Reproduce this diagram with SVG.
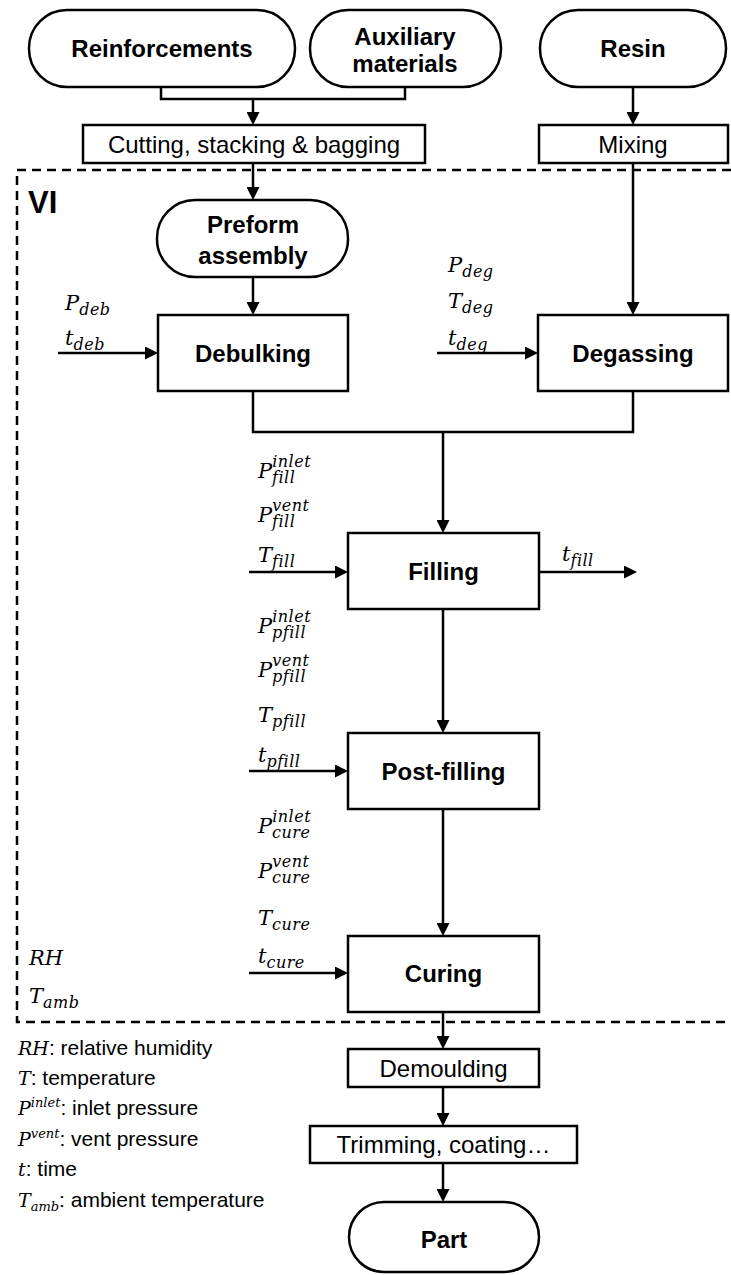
<svg xmlns="http://www.w3.org/2000/svg" width="731" height="1275" viewBox="0 0 731 1275">
  <style>
    .box { fill: #fff; stroke: #000; stroke-width: 2.5; }
    .line { fill: none; stroke: #000; stroke-width: 2.5; }
    .arrow { fill: none; stroke: #000; stroke-width: 2.5; marker-end: url(#ah); }
    .frame { fill: none; stroke: #000; stroke-width: 2.5; stroke-dasharray: 9 6; }
    .b { font-family: "Liberation Sans", Arial, sans-serif; font-weight: bold; font-size: 24px; text-anchor: middle; fill: #000; }
    .r { font-family: "Liberation Sans", Arial, sans-serif; font-size: 24px; text-anchor: middle; fill: #000; }
    .vi { font-family: "Liberation Sans", Arial, sans-serif; font-weight: bold; font-size: 31px; fill: #000; }
    .m { font-family: "DejaVu Serif", "Liberation Serif", serif; font-style: italic; font-size: 21px; fill: #000; }
    .s { font-size: 16px; letter-spacing: 0.5px; }
    .leg { font-family: "Liberation Sans", Arial, sans-serif; font-size: 21px; fill: #000; }
    .lm { font-family: "DejaVu Serif", "Liberation Serif", serif; font-style: italic; font-size: 19px; }
    .ls { font-family: "DejaVu Serif", "Liberation Serif", serif; font-style: italic; font-size: 13px; }
  </style>
  <defs>
    <marker id="ah" viewBox="0 0 13 13" refX="9" refY="6.5" markerWidth="13" markerHeight="13" markerUnits="userSpaceOnUse" orient="auto">
      <path d="M0,0 L13,6.5 L0,13 z" fill="#000"/>
    </marker>
  </defs>

  <!-- VI process boundary -->
  <g id="vi-frame">
    <path class="frame" d="M731,170 H17 V1022 H731"/>
    <text class="vi" x="28" y="213">VI</text>
  </g>

  <!-- connectors -->
  <g id="connectors">
    <path class="line" d="M161,87 V99 H405 V87"/>
    <path class="arrow" d="M253,99 V121"/>
    <path class="arrow" d="M633,87 V121"/>
    <path class="arrow" d="M253,163 V196"/>
    <path class="arrow" d="M253,277 V311"/>
    <path class="arrow" d="M633,163 V311"/>
    <path class="line" d="M253,391 V432 H633 V391"/>
    <path class="arrow" d="M443,432 V529"/>
    <path class="arrow" d="M443,609 V729"/>
    <path class="arrow" d="M443,809 V932"/>
    <path class="arrow" d="M443,1012 V1045"/>
    <path class="arrow" d="M443,1087 V1122"/>
    <path class="arrow" d="M443,1163 V1198"/>
    <!-- parameter inputs / output -->
    <path class="arrow" d="M58,353 H154"/>
    <path class="arrow" d="M437,353 H534"/>
    <path class="arrow" d="M249,572 H344"/>
    <path class="arrow" d="M539,572 H633"/>
    <path class="arrow" d="M249,771 H344"/>
    <path class="arrow" d="M249,973 H344"/>
  </g>

  <!-- nodes -->
  <g id="reinforcements">
    <rect class="box" x="29" y="10" width="266" height="77" rx="38" ry="38"/>
    <text class="b" x="162" y="57">Reinforcements</text>
  </g>
  <g id="auxiliary">
    <rect class="box" x="310" y="10" width="191" height="77" rx="38" ry="38"/>
    <text class="b" x="405" y="45">Auxiliary</text>
    <text class="b" x="405" y="72">materials</text>
  </g>
  <g id="resin">
    <rect class="box" x="540" y="10" width="186" height="77" rx="38" ry="38"/>
    <text class="b" x="633" y="57">Resin</text>
  </g>
  <g id="cutting">
    <rect class="box" x="83" y="125" width="342" height="38"/>
    <text class="r" x="254" y="153">Cutting, stacking &amp; bagging</text>
  </g>
  <g id="mixing">
    <rect class="box" x="539" y="125" width="189" height="38"/>
    <text class="r" x="633" y="153">Mixing</text>
  </g>
  <g id="preform">
    <rect class="box" x="157" y="200" width="191" height="77" rx="38" ry="38"/>
    <text class="b" x="253" y="233">Preform</text>
    <text class="b" x="253" y="264">assembly</text>
  </g>
  <g id="debulking">
    <rect class="box" x="158" y="315" width="190" height="76"/>
    <text class="b" x="253" y="362">Debulking</text>
  </g>
  <g id="degassing">
    <rect class="box" x="538" y="315" width="190" height="76"/>
    <text class="b" x="633" y="362">Degassing</text>
  </g>
  <g id="filling">
    <rect class="box" x="348" y="533" width="191" height="76"/>
    <text class="b" x="443.5" y="580">Filling</text>
  </g>
  <g id="post-filling">
    <rect class="box" x="348" y="733" width="191" height="76"/>
    <text class="b" x="443.5" y="780">Post-filling</text>
  </g>
  <g id="curing">
    <rect class="box" x="348" y="936" width="191" height="76"/>
    <text class="b" x="443.5" y="982">Curing</text>
  </g>
  <g id="demoulding">
    <rect class="box" x="348" y="1049" width="191" height="38"/>
    <text class="r" x="443.5" y="1077">Demoulding</text>
  </g>
  <g id="trimming">
    <rect class="box" x="310" y="1126" width="267" height="37"/>
    <text class="r" x="443.5" y="1153">Trimming, coating…</text>
  </g>
  <g id="part">
    <rect class="box" x="349" y="1202" width="190" height="70" rx="35" ry="35"/>
    <text class="b" x="444" y="1248">Part</text>
  </g>

  <!-- process parameters -->
  <g id="params-debulking">
    <text class="m" x="65" y="310">P<tspan class="s" dy="5">deb</tspan></text>
    <text class="m" x="65" y="345">t<tspan class="s" dy="5">deb</tspan></text>
  </g>
  <g id="params-degassing">
    <text class="m" x="448" y="272">P<tspan class="s" dy="5">deg</tspan></text>
    <text class="m" x="448" y="308">T<tspan class="s" dy="5">deg</tspan></text>
    <text class="m" x="448" y="345">t<tspan class="s" dy="5">deg</tspan></text>
  </g>
  <g id="params-filling">
    <text class="m" x="258" y="478">P<tspan class="s" dy="-11">inlet</tspan><tspan class="s" x="272" dy="16">fill</tspan></text>
    <text class="m" x="258" y="522">P<tspan class="s" dy="-11">vent</tspan><tspan class="s" x="272" dy="16">fill</tspan></text>
    <text class="m" x="258" y="562">T<tspan class="s" dy="5">fill</tspan></text>
    <text class="m" x="562" y="561">t<tspan class="s" dy="5">fill</tspan></text>
  </g>
  <g id="params-post-filling">
    <text class="m" x="258" y="633">P<tspan class="s" dy="-11">inlet</tspan><tspan class="s" x="272" dy="16">pfill</tspan></text>
    <text class="m" x="258" y="677">P<tspan class="s" dy="-11">vent</tspan><tspan class="s" x="272" dy="16">pfill</tspan></text>
    <text class="m" x="258" y="722">T<tspan class="s" dy="5">pfill</tspan></text>
    <text class="m" x="258" y="762">t<tspan class="s" dy="5">pfill</tspan></text>
  </g>
  <g id="params-curing">
    <text class="m" x="258" y="833">P<tspan class="s" dy="-11">inlet</tspan><tspan class="s" x="272" dy="16">cure</tspan></text>
    <text class="m" x="258" y="878">P<tspan class="s" dy="-11">vent</tspan><tspan class="s" x="272" dy="16">cure</tspan></text>
    <text class="m" x="258" y="925">T<tspan class="s" dy="5">cure</tspan></text>
    <text class="m" x="258" y="963">t<tspan class="s" dy="5">cure</tspan></text>
  </g>
  <g id="params-ambient">
    <text class="m" x="29" y="965">RH</text>
    <text class="m" x="29" y="1003">T<tspan class="s" dy="5">amb</tspan></text>
  </g>

  <!-- legend -->
  <g id="legend">
    <text class="leg" x="18" y="1055"><tspan class="lm">RH</tspan>: relative humidity</text>
    <text class="leg" x="18" y="1085"><tspan class="lm">T</tspan>: temperature</text>
    <text class="leg" x="18" y="1115"><tspan class="lm">P</tspan><tspan class="ls" dy="-8">inlet</tspan><tspan dy="8">: inlet pressure</tspan></text>
    <text class="leg" x="18" y="1146"><tspan class="lm">P</tspan><tspan class="ls" dy="-8">vent</tspan><tspan dy="8">: vent pressure</tspan></text>
    <text class="leg" x="18" y="1176"><tspan class="lm">t</tspan>: time</text>
    <text class="leg" x="18" y="1207"><tspan class="lm">T</tspan><tspan class="ls" dy="4">amb</tspan><tspan dy="-4">: ambient temperature</tspan></text>
  </g>
</svg>
